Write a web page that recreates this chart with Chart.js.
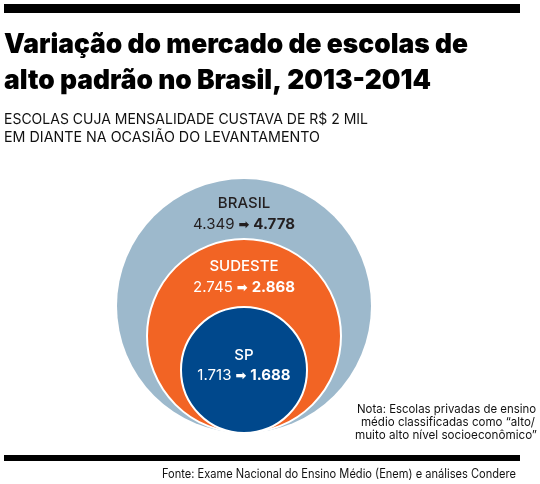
<!DOCTYPE html>
<html><head><meta charset="utf-8">
<script src="https://cdn.jsdelivr.net/npm/chart.js@4"></script>
<style>html,body{margin:0;padding:0;background:#fff;}canvas{display:block}</style>
</head><body>
<canvas id="c" width="540" height="484"></canvas>
<script>
// ---- data ----
const regions = ['BRASIL', 'SUDESTE', 'SP'];
const schools2013 = [4349, 2745, 1713];
const schools2014 = [4778, 2868, 1688];
const circleSize = [127, 97, 63]; // radius of each circle (axis units = px)

// ---- styles / layout ----
const fills = ['#9db9cc', '#f26424', '#00488c'];
const borders = [0, 2, 2];
const textColors = ['#231f20', '#ffffff', '#ffffff'];
const nameOffset = [-98, -65, -10];
const numOffset = [-77, -44, 10];
const FONT = 'Inter, "Open Sans", "DejaVu Sans", sans-serif';

function fmt(n) { return String(n).replace(/\B(?=(\d{3})+(?!\d))/g, '.'); }

function fitText(ctx, text, x, y, width, align) {
  const w = ctx.measureText(text).width;
  const sx = width ? width / w : 1;
  ctx.save();
  ctx.textAlign = 'left';
  const left = align === 'right' ? x - w * sx : (align === 'center' ? x - w * sx / 2 : x);
  ctx.translate(left, y);
  ctx.scale(sx, 1);
  ctx.fillText(text, 0, 0);
  ctx.restore();
}

const textPlugin = {
  id: 'texts',
  afterDatasetsDraw(chart) {
    const ctx = chart.ctx;
    ctx.save();
    ctx.textBaseline = 'alphabetic';
    ctx.fillStyle = '#000';
    ctx.fillRect(4, 4, 516, 9);
    ctx.fillRect(4, 455, 516, 6);
    ctx.fillStyle = '#000';
    ctx.font = '900 27px ' + FONT;
    fitText(ctx, 'Variação do mercado de escolas de', 4, 53, 464);
    fitText(ctx, 'alto padrão no Brasil, 2013-2014', 4, 89, 427);
    ctx.fillStyle = '#111';
    ctx.font = '400 14px ' + FONT;
    fitText(ctx, 'ESCOLAS CUJA MENSALIDADE CUSTAVA DE R$ 2 MIL', 4, 124, 364);
    fitText(ctx, 'EM DIANTE NA OCASIÃO DO LEVANTAMENTO', 4, 142, 316);
    ctx.font = '400 12px ' + FONT;
    fitText(ctx, 'Nota: Escolas privadas de ensino', 536, 413, 179, 'right');
    fitText(ctx, 'médio classificadas como “alto/', 535, 426, 174, 'right');
    fitText(ctx, 'muito alto nível socioeconômico”', 537, 439, 182, 'right');
    ctx.font = '400 12.5px ' + FONT;
    fitText(ctx, 'Fonte: Exame Nacional do Ensino Médio (Enem) e análises Condere', 516, 478, 354, 'right');

    const meta = chart.getDatasetMeta(0);
    meta.data.forEach((el, i) => {
      const cx = el.x, cy = el.y;
      ctx.fillStyle = textColors[i];
      ctx.font = '500 15px ' + FONT;
      ctx.textAlign = 'center';
      ctx.fillText(regions[i], cx, cy + nameOffset[i]);
      const a = fmt(schools2013[i]), b = fmt(schools2014[i]);
      const fA = '400 15px ' + FONT, fB = '700 15px ' + FONT, fArr = 'bold 13px "DejaVu Sans", sans-serif';
      ctx.font = fA; const wa = ctx.measureText(a).width;
      ctx.font = fB; const wb = ctx.measureText(b).width;
      ctx.font = fArr; const warr = ctx.measureText('➡').width;
      const gap = 4;
      const total = wa + gap + warr + gap + wb;
      let x = cx - total / 2;
      const y = cy + numOffset[i];
      ctx.textAlign = 'left';
      ctx.font = fA; ctx.fillText(a, x, y); x += wa + gap;
      ctx.font = fArr; ctx.fillText('➡', x, y); x += warr + gap;
      ctx.font = fB; ctx.fillText(b, x, y);
    });
    ctx.restore();
  }
};

new Chart(document.getElementById('c'), {
  type: 'bubble',
  data: {
    labels: regions,
    datasets: [{
      data: regions.map((r, i) => ({ x: 0, y: circleSize[i], r: circleSize[i] })),
      backgroundColor: fills,
      borderColor: '#ffffff',
      borderWidth: borders,
      hoverBorderWidth: borders,
      hoverRadius: 0,
      clip: false
    }]
  },
  options: {
    responsive: false,
    animation: false,
    events: [],
    layout: { padding: 0, autoPadding: false },
    plugins: { legend: { display: false }, tooltip: { enabled: false } },
    scales: {
      x: { type: 'linear', display: false, min: -244, max: 296 },
      y: { type: 'linear', display: false, min: -51, max: 433 }
    }
  },
  plugins: [textPlugin]
});
</script>
</body></html>
